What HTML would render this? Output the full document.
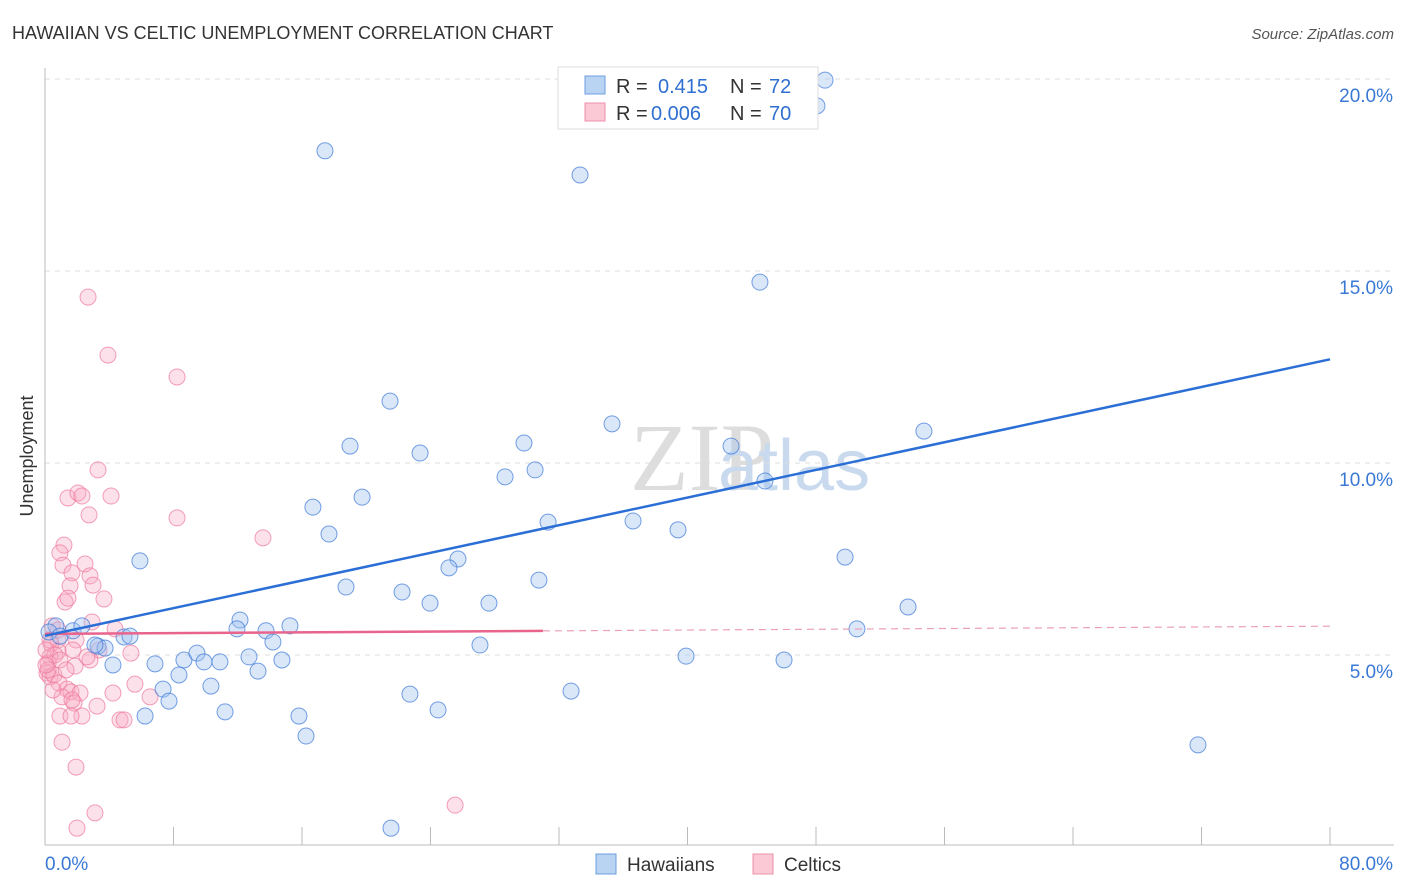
<!DOCTYPE html>
<html><head><meta charset="utf-8">
<style>
body{margin:0;background:#fff;font-family:"Liberation Sans",sans-serif;}
#wrap{position:relative;width:1406px;height:892px;overflow:hidden;}
</style></head>
<body>
<div id="wrap">
<svg id="svg" width="1406" height="892" xmlns="http://www.w3.org/2000/svg">
<text x="12" y="39" font-size="18" fill="#333">HAWAIIAN VS CELTIC UNEMPLOYMENT CORRELATION CHART</text>
<text x="1394" y="39" font-size="15" fill="#555" font-style="italic" text-anchor="end">Source: ZipAtlas.com</text>
<text x="33" y="456" font-size="18" fill="#333" transform="rotate(-90 33 456)" text-anchor="middle">Unemployment</text>
<text x="630" y="490" font-size="96" fill="#ddd" font-family="Liberation Serif">ZIP</text>
<text x="718" y="490" font-size="72" fill="#c9d9ee">atlas</text>
<g id="grid"></g><g id="axes"></g><g id="pts"></g><g id="lines"></g>
<g>
<rect x="558" y="67" width="260" height="62" fill="#fff" stroke="#ddd"/>
<rect x="585" y="76" width="20" height="18" fill="#b9d3f3" stroke="#6d9ee0"/>
<text x="616" y="93" font-size="20" fill="#333">R = </text><text x="658" y="93" font-size="20" fill="#2f6fd1">0.415</text>
<text x="730" y="93" font-size="20" fill="#333">N = </text><text x="769" y="93" font-size="20" fill="#2f6fd1">72</text>
<rect x="585" y="103" width="20" height="18" fill="#fbc8d6" stroke="#ee92ab"/>
<text x="616" y="120" font-size="20" fill="#333">R = </text><text x="651" y="120" font-size="20" fill="#2f6fd1">0.006</text>
<text x="730" y="120" font-size="20" fill="#333">N = </text><text x="769" y="120" font-size="20" fill="#2f6fd1">70</text>
</g>
<g>
<rect x="596" y="854" width="20" height="20" fill="#b9d3f3" stroke="#6d9ee0"/>
<text x="627" y="871" font-size="19" fill="#333">Hawaiians</text>
<rect x="753" y="854" width="20" height="20" fill="#fbc8d6" stroke="#ee92ab"/>
<text x="784" y="871" font-size="19" fill="#333">Celtics</text>
</g>
</svg>
</div>
<script>
const yTicks=[5,10,15,20];
const yTickLabels=["5.0%","10.0%","15.0%","20.0%"];
const xTickVals=[0,8,16,24,32,40,48,56,64,72,80];
const bluePx=[[825,80],[817,106],[325,151],[580,175],[760,282],[390,401],[612,424],[350,446],[524,443],[731,446],[420,453],[924,431],[505,477],[535,470],[765,481],[362,497],[313,507],[329,534],[548,522],[633,521],[678,530],[140,561],[458,559],[449,568],[845,557],[539,580],[346,587],[402,592],[430,603],[489,603],[908,607],[240,620],[237,629],[290,626],[266,631],[857,629],[273,642],[480,645],[56,626],[49,632],[60,636],[73,631],[82,626],[98,646],[105,648],[124,637],[130,636],[95,645],[155,664],[184,660],[197,653],[204,662],[220,662],[249,657],[282,660],[113,665],[179,675],[258,671],[686,656],[784,660],[211,686],[163,689],[169,701],[410,694],[571,691],[438,710],[145,716],[225,712],[299,716],[306,736],[1198,745],[391,828]];
const pinkPx=[[88,297],[108,355],[177,377],[98,470],[68,498],[78,493],[82,496],[111,496],[89,515],[177,518],[263,538],[64,545],[60,553],[63,565],[85,564],[72,573],[90,576],[70,586],[93,585],[104,599],[65,602],[68,598],[92,622],[115,629],[52,626],[131,653],[58,640],[51,644],[76,640],[73,650],[99,650],[58,651],[50,657],[48,663],[47,673],[50,677],[54,675],[59,683],[75,666],[90,660],[87,657],[135,684],[67,689],[71,692],[80,693],[62,697],[113,693],[150,697],[74,703],[97,706],[60,716],[82,716],[71,716],[120,720],[124,720],[62,742],[76,767],[95,813],[77,828],[455,805],[50,640],[48,670],[55,655],[60,660],[53,690],[46,650],[46,665],[66,670],[72,700],[58,630]];
// data values (percent)
const hawaiiansX=bluePx.map(p=>+((p[0]-45)*80/1285).toFixed(2));
const hawaiiansY=bluePx.map(p=>+((847-p[1])/38.4).toFixed(2));
const celticsX=pinkPx.map(p=>+((p[0]-45)*80/1285).toFixed(2));
const celticsY=pinkPx.map(p=>+((847-p[1])/38.4).toFixed(2));
const blueTrend=[5.5,12.7];   // y at x=0 and x=80
const pinkTrend=[5.55,5.75];
const pinkSolidEnd=31;

const X=v=>45+v*1285/80, Y=v=>847-v*38.4;
const NS="http://www.w3.org/2000/svg";
function mk(t,a,p){const e=document.createElementNS(NS,t);for(const k in a)e.setAttribute(k,a[k]);document.getElementById(p).appendChild(e);return e;}
yTicks.forEach((v,i)=>{
 const l=mk('line',{x1:45,x2:1394,y1:Y(v),y2:Y(v),stroke:'#ddd','stroke-dasharray':'5,5'},'grid');
 
 
 const t=mk('text',{x:1393,y:Y(v)+23,'font-size':19,fill:'#3a78d6','text-anchor':'end'},'axes');
 t.textContent=yTickLabels[i];
 
 
});
const ax=mk('line',{x1:45,x2:1394,y1:845,y2:845,stroke:'#bbb'},'axes');


const ay=mk('line',{x1:45,x2:45,y1:68,y2:845,stroke:'#bbb'},'axes');


xTickVals.forEach(v=>{
 const l=mk('line',{x1:X(v),x2:X(v),y1:827,y2:845,stroke:'#bbb'},'axes');
 
 
});
const t0=mk('text',{x:45,y:870,'font-size':19,fill:'#3a78d6'},'axes');t0.textContent='0.0%';


const t1=mk('text',{x:1393,y:870,'font-size':19,fill:'#3a78d6','text-anchor':'end'},'axes');t1.textContent='80.0%';


celticsX.forEach((x,i)=>{
 const c=mk('circle',{cx:X(x),cy:Y(celticsY[i]),r:8,fill:'rgba(248,170,195,0.35)',stroke:'rgba(236,120,155,0.7)','stroke-width':1},'pts');
 
 
});
hawaiiansX.forEach((x,i)=>{
 const c=mk('circle',{cx:X(x),cy:Y(hawaiiansY[i]),r:8,fill:'rgba(160,195,240,0.4)',stroke:'rgba(60,120,215,0.7)','stroke-width':1},'pts');
 
 
});
const py=x=>pinkTrend[0]+(pinkTrend[1]-pinkTrend[0])*x/80;
const pl=mk('line',{x1:X(0),y1:Y(py(0)),x2:X(pinkSolidEnd),y2:Y(py(pinkSolidEnd)),stroke:'#e8648d','stroke-width':2.5},'lines');


const pd=mk('line',{x1:X(pinkSolidEnd),y1:Y(py(pinkSolidEnd)),x2:X(80),y2:Y(py(80)),stroke:'#eaa0b6','stroke-width':1.2,'stroke-dasharray':'7,5'},'lines');


const bl=mk('line',{x1:X(0),y1:Y(blueTrend[0]),x2:X(80),y2:Y(blueTrend[1]),stroke:'#2b6fd6','stroke-width':2.5},'lines');


</script>
</body></html>
